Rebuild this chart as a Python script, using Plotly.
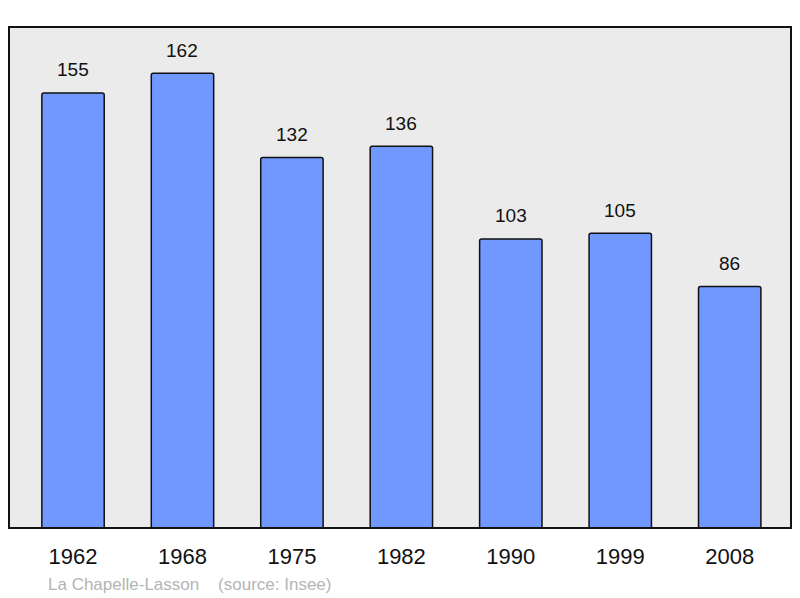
import plotly.graph_objects as go

years = ["1962", "1968", "1975", "1982", "1990", "1999", "2008"]
population = [155, 162, 132, 136, 103, 105, 86]
source_text = "La Chapelle-Lasson    (source: Insee)"

fig = go.Figure()
fig.add_trace(go.Bar(
    x=years, y=population,
    width=0.57,
    marker=dict(color="#7098ff", line=dict(color="#111111", width=1.5), cornerradius=2),
    hoverinfo="skip",
))

for i, v in enumerate(population):
    fig.add_annotation(x=i, y=v, text=str(v), showarrow=False,
                       xref="x", yref="y",
                       yanchor="middle", yshift=23,
                       font=dict(family="Liberation Sans, Arial", size=19, color="#111111"))

fig.add_annotation(xref="paper", yref="paper", x=(46 - 9) / 782, y=-(584 - 528) / 501,
                   xanchor="left", yanchor="middle", text=source_text, showarrow=False,
                   font=dict(family="Liberation Sans, Arial", size=17, color="#b4b4b4"))

fig.add_shape(type="rect", xref="paper", yref="paper", x0=0, y0=0, x1=1, y1=1,
              line=dict(color="#111111", width=2), layer="above")

fig.update_layout(
    width=800, height=598,
    margin=dict(l=9, r=9, t=27, b=70),
    paper_bgcolor="white", plot_bgcolor="#ebebeb",
    showlegend=False,
    xaxis=dict(type="category", range=[-0.585, 6.56], showgrid=False, zeroline=False,
               ticks="outside", ticklen=9, tickcolor="rgba(0,0,0,0)",
               tickfont=dict(family="Liberation Sans, Arial", size=22, color="#111111")),
    yaxis=dict(range=[0, 178.5], showgrid=False, zeroline=False, showticklabels=False),
)

fig.write_html("out.html", config={"displayModeBar": False, "staticPlot": True},
               post_script="document.body.style.margin='0';document.body.style.overflow='hidden';")
